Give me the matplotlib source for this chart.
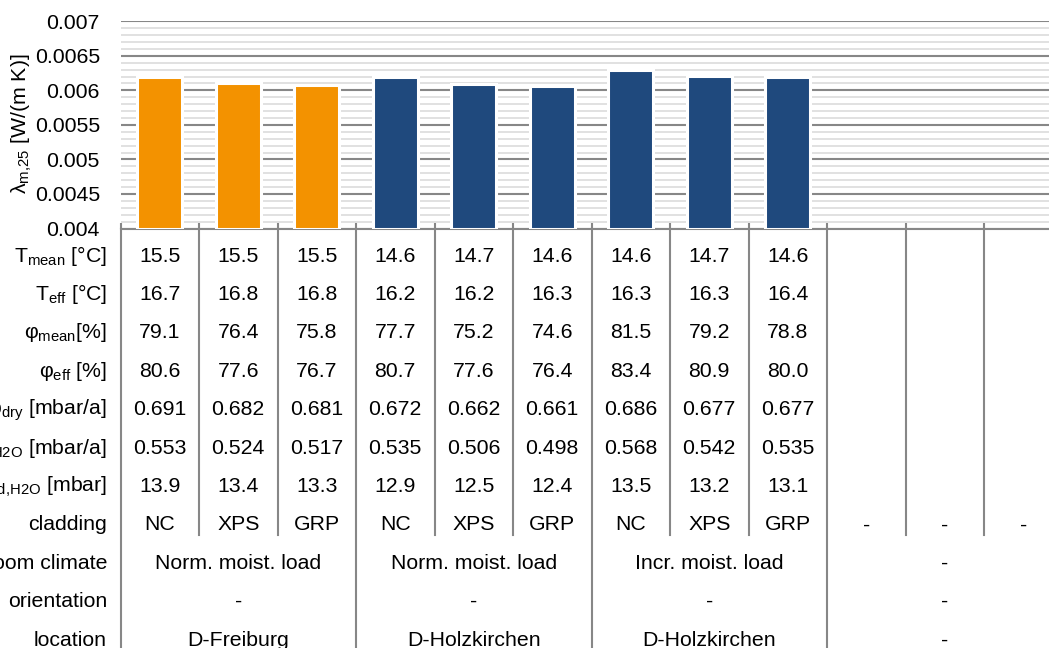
import matplotlib
matplotlib.use("Agg")
import matplotlib.pyplot as plt
from matplotlib import transforms
from matplotlib.lines import Line2D
from matplotlib.ticker import MultipleLocator, FuncFormatter

plt.rcParams["font.family"] = ["Liberation Sans", "DejaVu Sans"]
plt.rcParams["mathtext.default"] = "regular"

# ---- data ----
lambda_m25 = [0.0062, 0.0061, 0.00608, 0.00619, 0.00609, 0.00607, 0.0063, 0.00621, 0.0062]
bar_colors = ["#F39200"] * 3 + ["#1F497D"] * 6
n_cat = 12  # last three columns are empty

t_mean = [15.5, 15.5, 15.5, 14.6, 14.7, 14.6, 14.6, 14.7, 14.6]
t_eff = [16.7, 16.8, 16.8, 16.2, 16.2, 16.3, 16.3, 16.3, 16.4]
phi_mean = [79.1, 76.4, 75.8, 77.7, 75.2, 74.6, 81.5, 79.2, 78.8]
phi_eff = [80.6, 77.6, 76.7, 80.7, 77.6, 76.4, 83.4, 80.9, 80.0]
dp_dry = [0.691, 0.682, 0.681, 0.672, 0.662, 0.661, 0.686, 0.677, 0.677]
dp_h2o = [0.553, 0.524, 0.517, 0.535, 0.506, 0.498, 0.568, 0.542, 0.535]
p_d_h2o = [13.9, 13.4, 13.3, 12.9, 12.5, 12.4, 13.5, 13.2, 13.1]
cladding = ["NC", "XPS", "GRP"] * 3 + ["-"] * 3
room_climate = ["Norm. moist. load", "Norm. moist. load", "Incr. moist. load", "-"]
orientation = ["-", "-", "-", "-"]
location = ["D-Freiburg", "D-Holzkirchen", "D-Holzkirchen", "-"]

row_labels = ["T$_{mean}$ [°C]", "T$_{eff}$ [°C]", "φ$_{mean}$[%]", "φ$_{eff}$ [%]",
              "Δp$_{dry}$ [mbar/a]", "Δp$_{H2O}$ [mbar/a]", "p$_{sat{,}d{,}H2O}$ [mbar]",
              "cladding", "room climate", "orientation", "location"]

# ---- layout (pixels) ----
W, H = 1049, 648
ax_left, ax_right = 120.5, 1062.5
ax_top, ax_bottom = 21.3, 228.5
row0, row_step = 254.0, 38.4
baseline_off = 7.5
fs = 15.3
grid_dark = "#878787"

fig = plt.figure(figsize=(W / 100, H / 100), dpi=100)
ax = fig.add_axes([ax_left / W, 1 - ax_bottom / H,
                   (ax_right - ax_left) / W, (ax_bottom - ax_top) / H])

x = list(range(len(lambda_m25)))
ax.bar(x, [v - 0.004 for v in lambda_m25], bottom=0.004, width=0.57,
       color=bar_colors, edgecolor="white", linewidth=2.2, zorder=3)

ax.set_xlim(-0.5, n_cat - 0.5)
ax.set_ylim(0.004, 0.007)
ax.yaxis.set_major_locator(MultipleLocator(0.0005))
ax.yaxis.set_minor_locator(MultipleLocator(0.0001))
ax.yaxis.set_major_formatter(FuncFormatter(lambda v, p: f"{v:g}"))
ax.grid(axis="y", which="major", color=grid_dark, linewidth=1.5, zorder=0)
ax.grid(axis="y", which="minor", color="#D9D9D9", linewidth=1.1, zorder=0)
ax.set_axisbelow(True)
ax.tick_params(axis="y", which="both", length=0, pad=14.8, labelsize=fs)

ax.set_xticks([i - 0.5 for i in range(n_cat + 1)])
ax.set_xticklabels([])
ax.tick_params(axis="x", direction="in", length=4.5, width=1.5, color=grid_dark)
for side in ("top", "right", "left"):
    ax.spines[side].set_visible(False)
ax.spines["bottom"].set_color(grid_dark)
ax.spines["bottom"].set_linewidth(1.5)

fig.text(22 / W, 1 - 124 / H, "λ$_{m{,}25}$ [W/(m K)]", rotation=90,
         ha="center", va="center", fontsize=fs)

# ---- data table under the axis ----
tr = transforms.blended_transform_factory(ax.transData, fig.transFigure)


def fy(px):
    return 1 - px / H


numeric_rows = [(t_mean, "{:.1f}"), (t_eff, "{:.1f}"), (phi_mean, "{:.1f}"),
                (phi_eff, "{:.1f}"), (dp_dry, "{:.3f}"), (dp_h2o, "{:.3f}"),
                (p_d_h2o, "{:.1f}")]

for r, label in enumerate(row_labels):
    yb = fy(row0 + r * row_step + baseline_off)
    fig.text(107 / W, yb, label, ha="right", va="baseline", fontsize=fs)
    if r < len(numeric_rows):
        vals, fmt = numeric_rows[r]
        for i, v in enumerate(vals):
            ax.text(i, yb, fmt.format(v), transform=tr, ha="center",
                    va="baseline", fontsize=fs, clip_on=False)

# cladding row
yb = fy(row0 + 7 * row_step + baseline_off)
for i, c in enumerate(cladding):
    ax.text(i, yb, c, transform=tr, ha="center", va="baseline",
            fontsize=fs, clip_on=False)

# group rows (three columns per group)
for r, row in enumerate([room_climate, orientation, location]):
    yb = fy(row0 + (8 + r) * row_step + baseline_off)
    for g, txt in enumerate(row):
        ax.text(3 * g + 1, yb, txt, transform=tr, ha="center",
                va="baseline", fontsize=fs, clip_on=False)

# divider lines
for b in range(n_cat + 1):
    xb = b - 0.5
    y_end = H + 5 if b % 3 == 0 else 535
    ax.add_line(Line2D([xb, xb], [fy(ax_bottom), fy(y_end)], transform=tr,
                       color=grid_dark, linewidth=1.5, clip_on=False))

fig.savefig("out.png", dpi=100)
